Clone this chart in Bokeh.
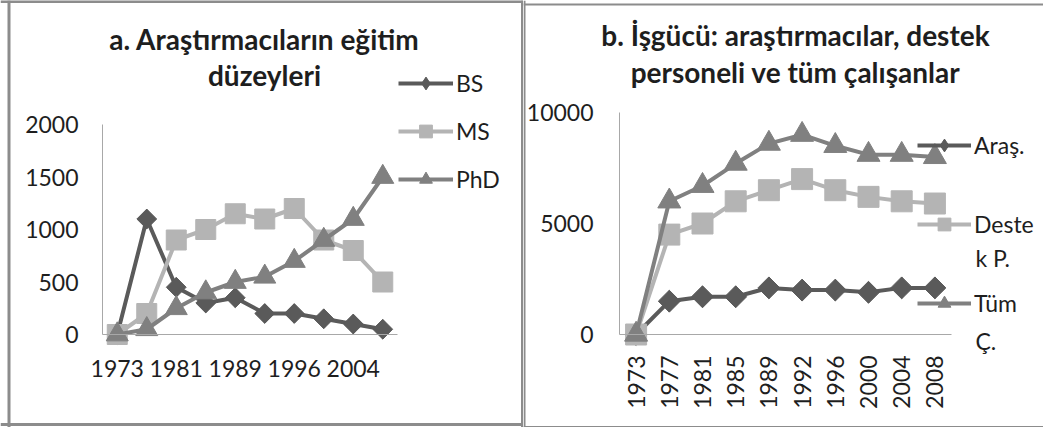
import numpy as np
from bokeh.plotting import figure
from bokeh.models import Legend, LegendItem, Label, FixedTicker, Range1d, Span
from bokeh.layouts import row
from bokeh.embed import file_html
from bokeh.resources import INLINE

# ---------------- data ----------------
years = ["1973", "1977", "1981", "1985", "1989", "1992", "1996", "2000", "2004", "2008"]

# panel a: education level of researchers
bs = [0, 1100, 450, 300, 350, 200, 200, 150, 100, 50]
ms = [0, 200, 900, 1000, 1150, 1100, 1200, 900, 800, 500]
phd = [0, 50, 250, 400, 500, 550, 700, 900, 1100, 1500]
a_names = ["BS", "MS", "PhD"]
a_yticks = [0, 500, 1000, 1500, 2000]
a_title = ["a. Araştırmacıların eğitim", "düzeyleri"]

# panel b: workforce
aras = [0, 1500, 1700, 1700, 2100, 2000, 2000, 1900, 2100, 2100]
destek = [0, 4500, 5000, 6000, 6500, 7000, 6500, 6200, 6000, 5900]
tum = [0, 6000, 6700, 7700, 8600, 9000, 8500, 8100, 8100, 8000]
b_names = ["Araş.", "Deste", "Tüm"]
b_names_2nd = ["", "k P.", "Ç."]
b_yticks = [0, 5000, 10000]
b_title = ["b. İşgücü: araştırmacılar, destek", "personeli ve tüm çalışanlar"]

# ---------------- style ----------------
FONT = "Lato"
DARK = "#5a5a5a"
MID = "#808080"
LIGHT = "#b4b4b4"
TXT = "#1e1e1e"
AXIS = "#a8a8a8"
BORDER = "#8c8c8c"
GH = 32  # legend glyph box height

x = np.arange(len(years))
n = len(years)


class Panel:
    """Maps page pixels to data values for one panel (frame = whole panel box)."""

    def __init__(self, ox, width, height, fl, fr, ft, fb, dl, dr, dt, db, ymax):
        self.ox = ox
        self.fl, self.fr, self.ft, self.fb = fl, fr, ft, fb
        self.ppx = (dr - dl) / n
        self.dl = dl
        self.ppy = (db - dt) / ymax
        self.db = db
        self.width, self.height = width, height

    def X(self, px):
        return -0.5 + (px - self.dl) / self.ppx

    def Y(self, py):
        return (self.db - py) / self.ppy

    def fig(self):
        p = figure(width=self.width, height=self.height, output_backend="svg",
                   toolbar_location=None,
                   x_range=Range1d(self.X(self.fl), self.X(self.fr)),
                   y_range=Range1d(self.Y(self.fb), self.Y(self.ft)),
                   min_border_left=self.fl - self.ox, min_border_right=self.ox + self.width - self.fr,
                   min_border_top=self.ft, min_border_bottom=self.height - self.fb)
        p.outline_line_color = None
        p.xgrid.visible = False
        p.ygrid.visible = False
        return p


def style_axes(p, yticks, xticks, rotate=False, ystand=25, xstand=18):
    for ax in (p.xaxis[0], p.yaxis[0]):
        ax.axis_line_color = AXIS
        ax.axis_line_width = 1
        ax.major_tick_line_color = None
        ax.minor_tick_line_color = None
        ax.major_tick_out = 0
        ax.major_tick_in = 0
        ax.major_label_text_font = FONT
        ax.major_label_text_font_size = "23px"
        ax.major_label_text_color = TXT
    p.yaxis.ticker = FixedTicker(ticks=yticks)
    p.yaxis.bounds = (0, yticks[-1])
    p.yaxis.fixed_location = -0.5
    p.yaxis.major_label_standoff = ystand
    p.xaxis.fixed_location = 0
    p.xaxis.bounds = (-0.5, n - 0.5)
    p.xaxis.ticker = FixedTicker(ticks=list(xticks))
    p.xaxis.major_label_overrides = {int(i): years[i] for i in xticks}
    p.xaxis.major_label_standoff = xstand
    if rotate:
        p.xaxis.major_label_orientation = np.pi / 2


def add_series(p, vals, color, marker, size):
    l = p.line(x, vals, line_color=color, line_width=4)
    if marker == "diamond":
        # narrow diamond hidden under the rotated square: used for the legend glyph
        d = p.scatter(x, vals, marker="diamond", size=size * 1.35,
                      fill_color=color, line_color=color)
        p.scatter(x, vals, marker="square", size=size, angle=np.pi / 4,
                  fill_color=color, line_color=color)
        return [l, d]
    s = p.scatter(x, vals, marker=marker, size=size, fill_color=color, line_color=color)
    return [l, s]


def add_text(p, P, t, px, py, bold=False, size="28px", align="center"):
    p.add_layout(Label(x=P.X(px), y=P.Y(py), text=t, text_font=FONT,
                       text_font_style="bold" if bold else "normal", text_font_size=size,
                       text_color=TXT, text_align=align, text_baseline="middle"))


def add_border(p, P, left=None, right=None, top=None, bottom=None, w=2):
    for loc in (left, right):
        if loc is not None:
            p.add_layout(Span(location=P.X(loc), dimension="height", line_color=BORDER, line_width=w))
    for loc in (top, bottom):
        if loc is not None:
            p.add_layout(Span(location=P.Y(loc), dimension="width", line_color=BORDER, line_width=w))


def make_legend(P, names, rends, left, first_center, pitch, gw):
    spacing = pitch - GH
    top = first_center - GH / 2
    h = len(names) * GH + (len(names) - 1) * spacing
    return Legend(items=[LegendItem(label=nm, renderers=r) for nm, r in zip(names, rends)],
                  location=(left - P.fl, P.fb - (top + h)), orientation="vertical",
                  border_line_color=None, background_fill_alpha=0, padding=0, margin=0,
                  spacing=spacing, glyph_width=gw, glyph_height=GH, label_height=GH,
                  label_standoff=3, label_text_font=FONT, label_text_font_size="23px",
                  label_text_color=TXT)


# ---------------- panel a ----------------
A = Panel(ox=0, width=523, height=427, fl=0, fr=523, ft=0, fb=427,
          dl=102, dr=397, dt=124, db=334, ymax=a_yticks[-1])
pa = A.fig()
style_axes(pa, a_yticks, range(0, n, 2), ystand=24, xstand=25)
ra = [add_series(pa, bs, DARK, "diamond", 14),
      add_series(pa, ms, LIGHT, "square", 20),
      add_series(pa, phd, MID, "triangle", 22)]
pa.add_layout(make_legend(A, a_names, ra, 398, 83, 48, 55))
add_text(pa, A, a_title[0], 264, 38, bold=True)
add_text(pa, A, a_title[1], 264, 74, bold=True)
add_border(pa, A, left=8.5, right=522, top=1, bottom=424, w=3)

# ---------------- panel b ----------------
B = Panel(ox=523, width=520, height=427, fl=523, fr=1043, ft=0, fb=427,
          dl=619, dr=951, dt=112, db=334, ymax=b_yticks[-1])
pb = B.fig()
style_axes(pb, b_yticks, range(n), rotate=True, ystand=26, xstand=21)
rb = [add_series(pb, aras, DARK, "diamond", 15.5),
      add_series(pb, destek, LIGHT, "square", 21),
      add_series(pb, tum, MID, "triangle", 23)]
pb.add_layout(make_legend(B, b_names, rb, 917, 145, 79, 54))
for t, yy in zip(b_names_2nd, [0, 257, 340]):
    if t:
        add_text(pb, B, t, 975, yy, size="23px", align="left")
add_text(pb, B, b_title[0], 795, 34, bold=True)
add_text(pb, B, b_title[1], 795, 71, bold=True)
add_border(pb, B, left=524, top=4, bottom=426.5, w=2)

layout = row(pa, pb, spacing=0)
open("out.html", "w").write(file_html(layout, INLINE))
